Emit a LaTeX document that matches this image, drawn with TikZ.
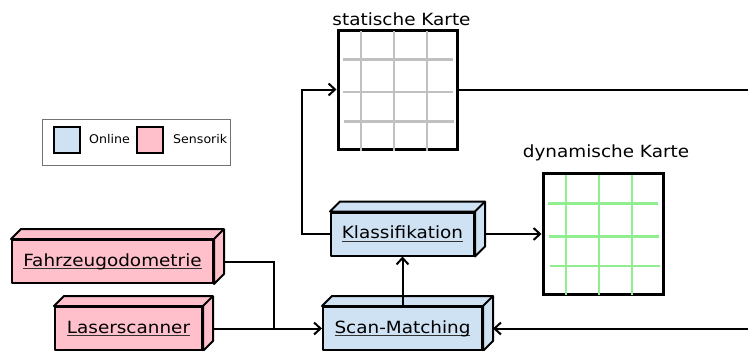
\documentclass[tikz,border=0pt]{standalone}
\usepackage{fontspec}
\usetikzlibrary{arrows.meta,calc}
\newfontfamily\mainf{DejaVu Sans}[FakeStretch=1.095]
\newfontfamily\legf{DejaVu Sans}[FakeStretch=1.05]
\definecolor{onlinefill}{HTML}{CFE2F3}
\definecolor{sensorfill}{HTML}{FFC0CB}
\definecolor{statgrid}{HTML}{C0C0C0}
\definecolor{dyngrid}{HTML}{90EE90}
% underlined label text
\newcommand\ulin[1]{\sbox0{#1}\rlap{\color{black!80}\rule[-3.2pt]{\wd0}{1.1pt}}\usebox0}
% top and right faces of a 3D box node
\newcommand\boxfaces[2]{%
  \filldraw[cubeline,fill=#2] (#1.north west) -- ([shift={(10,-10)}]#1.north west)
    -- ([shift={(10,-10)}]#1.north east) -- ([shift={(10,-10)}]#1.south east)
    -- (#1.south east) -- (#1.north east) -- cycle;
  \draw[cubeline] (#1.north east) -- ([shift={(10,-10)}]#1.north east);
}
\tikzset{
  cubeline/.style={line width=2pt,line join=round},
  cube/.style={draw,cubeline,rectangle,inner sep=0pt,minimum height=43pt,
    font=\mainf\fontsize{16.8}{19}\selectfont},
  maplabel/.style={anchor=base,inner sep=0pt,font=\mainf\fontsize{16.8}{19}\selectfont},
  mapbox/.style={draw,line width=3pt,inner sep=0pt},
  gridline/.style={line width=2.8pt},
  conn/.style={line width=2pt},
  arr/.style={conn,-{Straight Barb[length=6.5pt,width=12pt]}},
  swatch/.style={draw,line width=2.8pt,inner sep=0pt,minimum size=26pt},
  legtext/.style={anchor=west,inner sep=0pt,font=\legf\fontsize{12}{14}\selectfont},
}
\begin{document}
\begin{tikzpicture}[x=1pt,y=-1pt]
\useasboundingbox (0,0) rectangle (748,351);
\clip (0,0) rectangle (748,351);

% legend
\node[draw=black!55,line width=1pt,minimum width=188pt,minimum height=46pt,inner sep=0pt] (legend) at (136,142) {};
\node[swatch,fill=onlinefill] (swon) at (67,140) {};
\node[legtext] (lon) at (89,139.5) {Online};
\node[swatch,fill=sensorfill] (swsens) at (150,140) {};
\node[legtext] (lsens) at (173,139.5) {Sensorik};

% static map
\node[mapbox,minimum width=119pt,minimum height=119pt] (stat) at (397.5,89.5) {};
\foreach \x in {361,394,427} \draw[statgrid,gridline] (\x,31) -- (\x,151);
\draw[statgrid,gridline] (343,59.5) -- (453,59.5);
\draw[statgrid,gridline] (343,92) -- (453,92);
\draw[statgrid,gridline] (344,121.5) -- (454,121.5);
\node[maplabel] (statlbl) at (401.5,25) {statische Karte};

% dynamic map
\node[mapbox,minimum width=120pt,minimum height=121pt] (dyn) at (603,234) {};
\foreach \x in {566,599,632} \draw[dyngrid,gridline] (\x,175) -- (\x,295);
\draw[dyngrid,gridline] (548,203.5) -- (658,203.5);
\draw[dyngrid,gridline] (549,236.5) -- (659,236.5);
\draw[dyngrid,gridline] (550,266) -- (660,266);
\node[maplabel] (dynlbl) at (606,157) {dynamische Karte};

% process boxes
\node[cube,fill=sensorfill,minimum width=201pt] (fahr) at (112.5,261.5) {\ulin{Fahrzeugodometrie}};
\node[cube,fill=sensorfill,minimum width=147pt] (laser) at (128.5,328.5) {\ulin{Laserscanner}};
\node[cube,fill=onlinefill,minimum width=143pt] (klass) at (402.5,234) {\ulin{Klassifikation}};
\node[cube,fill=onlinefill,minimum width=159pt] (scan) at (402.5,328.5) {\ulin{Scan-Matching}};
\boxfaces{fahr}{sensorfill}
\boxfaces{laser}{sensorfill}
\boxfaces{klass}{onlinefill}
\boxfaces{scan}{onlinefill}

% connectors
\coordinate (join) at (274,328.5);
\coordinate (leftbend) at (301.5,234);
\coordinate (rtop) at (760,89.5);
\coordinate (rbot) at (760,328.5);
\draw[arr] ([xshift=10pt]fahr.east) -| (join) -- (scan.west);
\draw[conn] ([xshift=10pt]laser.east) -- (join);
\draw[arr] (scan.north) -- (klass.south);
\draw[arr] (klass.west) -- (leftbend) |- (stat.west);
\draw[arr] ([xshift=10pt]klass.east) -- (dyn.west);
\draw[arr] (stat.east) -- (rtop) -- (rbot) -- ([xshift=10pt]scan.east);
\end{tikzpicture}
\end{document}
